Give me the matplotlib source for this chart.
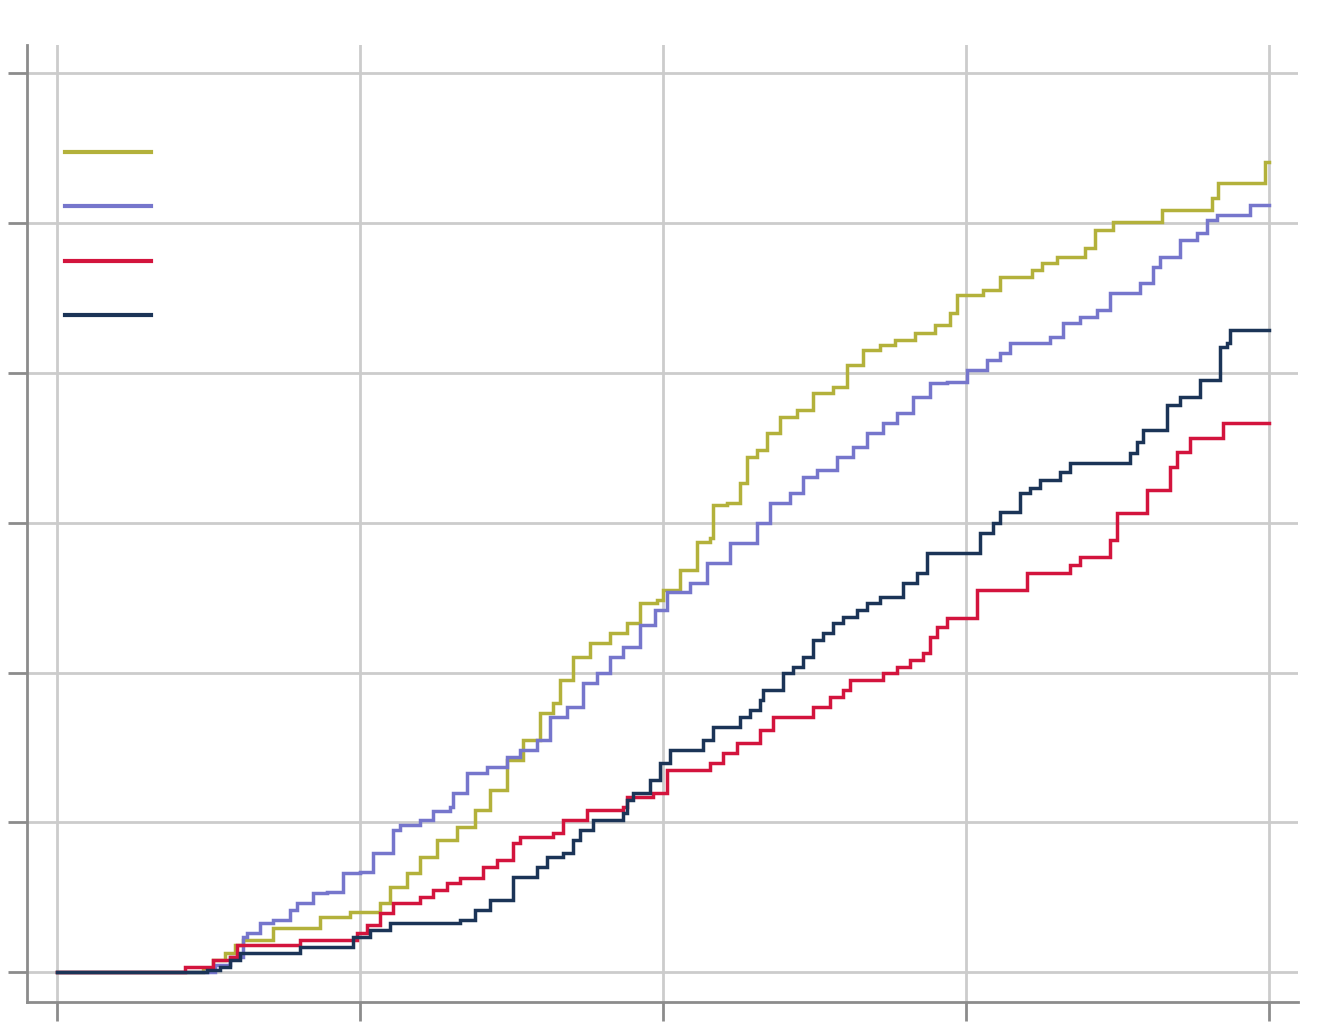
import matplotlib
matplotlib.use("Agg")
import matplotlib.pyplot as plt

# ---- data (x: 0-100, y: 0-60) ----
olive_x = [0, 12.05, 12.87, 13.86, 14.69, 15.35, 17.82, 21.70, 24.17, 26.65, 27.48, 28.88, 29.95,
           31.35, 33.00, 34.49, 35.73, 37.13, 38.45, 39.85, 40.92, 41.50, 42.57, 43.98, 45.63, 47.03,
           48.10, 49.50, 50.00, 51.40, 52.81, 53.88, 54.13, 55.28, 56.35, 56.93, 57.76, 58.58, 59.65,
           61.06, 62.38, 64.03, 65.18, 66.50, 67.90, 69.14, 70.79, 72.44, 73.68, 74.26, 76.40, 77.81,
           80.45, 81.27, 82.51, 84.82, 85.64, 87.13, 91.17, 95.30, 95.79, 99.67, 100]
olive_y = [0, 0.27, 0.80, 1.27, 1.80, 2.14, 2.94, 3.67, 4.01, 4.61, 5.68, 6.61, 7.68, 8.82,
           9.69, 10.82, 12.16, 14.16, 15.50, 17.30, 17.97, 19.51, 21.04, 21.98, 22.65, 23.31, 24.65,
           24.85, 25.52, 26.85, 28.72, 28.99, 31.20, 31.33, 32.67, 34.40, 34.87, 36.01, 37.07, 37.54,
           38.68, 39.08, 40.55, 41.55, 41.88, 42.22, 42.69, 43.22, 44.02, 45.22, 45.56, 46.43, 46.89,
           47.36, 47.76, 48.36, 49.57, 50.10, 50.90, 51.70, 52.71, 54.11, 54.11]

purple_x = [0, 13.04, 14.27, 15.35, 15.68, 16.75, 17.82, 19.22, 19.80, 21.12, 22.28, 23.60, 25.00,
            26.07, 27.72, 28.30, 29.95, 31.02, 32.43, 32.67, 33.83, 35.48, 37.13, 38.20, 39.60, 40.68,
            42.08, 43.40, 44.55, 45.63, 46.70, 48.10, 49.34, 50.33, 52.23, 53.63, 55.53, 57.76, 58.83,
            60.48, 61.55, 62.71, 64.36, 65.68, 66.83, 68.15, 69.31, 70.63, 72.03, 73.43, 75.08, 76.73,
            77.81, 78.63, 81.93, 83.00, 84.41, 85.81, 86.88, 89.36, 90.43, 91.01, 92.66, 94.06, 94.88,
            95.71, 98.43, 100]
purple_y = [0, 0.47, 1.00, 2.34, 2.61, 3.27, 3.47, 4.14, 4.61, 5.28, 5.34, 6.61, 6.68, 7.95,
            9.49, 9.82, 10.15, 10.75, 11.02, 11.96, 13.29, 13.69, 14.36, 14.83, 15.50, 17.03, 17.70,
            19.31, 19.97, 21.04, 21.71, 23.18, 24.18, 25.38, 25.99, 27.32, 28.66, 29.99, 31.33, 32.00,
            33.07, 33.53, 34.40, 35.07, 36.01, 36.67, 37.34, 38.41, 39.35, 39.41, 40.21, 40.88, 41.35,
            42.02, 42.42, 43.35, 43.75, 44.22, 45.36, 46.03, 47.09, 47.76, 48.90, 49.37, 50.23, 50.57,
            51.24, 51.24]

red_x = [0, 10.56, 12.87, 14.27, 14.85, 20.05, 24.75, 25.58, 26.65, 27.72, 29.95, 31.02, 32.18, 33.25,
         35.15, 36.30, 37.62, 38.20, 40.92, 41.75, 43.73, 46.70, 47.03, 49.17, 50.33, 53.88, 54.95,
         56.11, 58.00, 59.08, 62.38, 63.78, 64.85, 65.43, 68.15, 69.31, 70.38, 71.45, 72.03, 72.61,
         73.43, 75.91, 80.03, 83.58, 84.41, 86.88, 87.46, 89.93, 91.83, 92.41, 93.48, 96.20, 100]
red_y = [0, 0.33, 0.80, 1.00, 1.80, 2.14, 2.61, 3.14, 3.94, 4.61, 5.01, 5.48, 5.95, 6.28,
         7.01, 7.48, 8.62, 9.02, 9.29, 10.15, 10.82, 11.02, 11.69, 11.96, 13.49, 13.96, 14.63,
         15.30, 16.17, 17.03, 17.70, 18.37, 18.84, 19.51, 19.97, 20.37, 20.84, 21.31, 22.38, 23.05,
         23.65, 25.52, 26.65, 27.19, 27.72, 28.86, 30.66, 32.20, 33.73, 34.74, 35.67, 36.67, 36.67]

navy_x = [0, 12.38, 13.45, 14.27, 15.10, 20.05, 24.42, 25.83, 27.48, 33.25, 34.49, 35.73, 37.62, 39.60,
          40.43, 41.75, 42.57, 43.15, 44.22, 46.70, 47.03, 47.52, 48.93, 49.75, 50.58, 53.30, 54.13,
          56.35, 57.18, 58.00, 58.25, 59.90, 60.73, 61.55, 62.38, 63.20, 64.03, 64.85, 66.01, 66.83,
          67.90, 69.80, 70.96, 71.78, 76.16, 77.23, 77.81, 79.46, 80.28, 81.11, 82.76, 83.58, 88.53,
          89.11, 89.60, 91.58, 92.66, 94.31, 95.96, 96.53, 96.78, 100]
navy_y = [0, 0.13, 0.33, 0.80, 1.27, 1.67, 2.34, 2.81, 3.27, 3.47, 4.14, 4.81, 6.35, 7.01,
          7.68, 7.95, 8.82, 9.49, 10.15, 10.62, 11.49, 11.96, 12.83, 13.96, 14.83, 15.50, 16.37,
          17.03, 17.50, 18.17, 18.84, 19.97, 20.37, 21.04, 22.18, 22.65, 23.31, 23.71, 24.18, 24.65,
          25.05, 25.99, 26.65, 27.99, 29.33, 29.99, 30.73, 32.00, 32.33, 32.87, 33.40, 34.00, 34.67,
          35.40, 36.21, 37.88, 38.41, 39.55, 41.75, 42.02, 42.89, 42.89]

x_ticks = [0, 25, 50, 75, 100]
y_ticks = [0, 10, 20, 30, 40, 50, 60]

series = [
    (olive_x, olive_y, "#b3b13b"),
    (purple_x, purple_y, "#7676cc"),
    (red_x, red_y, "#d3143d"),
    (navy_x, navy_y, "#1b3457"),
]

fig = plt.figure(figsize=(13.3, 10.31), dpi=100)
ax = fig.add_axes([27 / 1330, 1 - 1002 / 1031, 1271 / 1330, 957 / 1031])

handles = []
for xs, ys, c in series:
    (h,) = ax.step(xs, ys, where="post", color=c, lw=2.5, solid_joinstyle="miter")
    handles.append(h)

ax.set_xlim(-2.48, 102.4)
ax.set_ylim(-2.0, 61.9)
ax.set_xticks(x_ticks)
ax.set_yticks(y_ticks)
ax.set_xticklabels([])
ax.set_yticklabels([])
ax.grid(True, color="#cccccc", lw=2)
ax.set_axisbelow(True)
for s in ["top", "right"]:
    ax.spines[s].set_visible(False)
for s in ["left", "bottom"]:
    ax.spines[s].set_color("#8c8c8c")
    ax.spines[s].set_linewidth(2)
ax.tick_params(axis="both", direction="out", length=14, width=2, color="#8c8c8c")

leg = ax.legend(handles, ["", "", "", ""], loc="upper left",
                bbox_to_anchor=(0.030, 0.897), frameon=False, fontsize=16,
                handlelength=3.85, labelspacing=1.55, borderpad=0, borderaxespad=0,
                handletextpad=0)
for line in leg.get_lines():
    line.set_linewidth(3)

fig.savefig("out.png", dpi=100)
